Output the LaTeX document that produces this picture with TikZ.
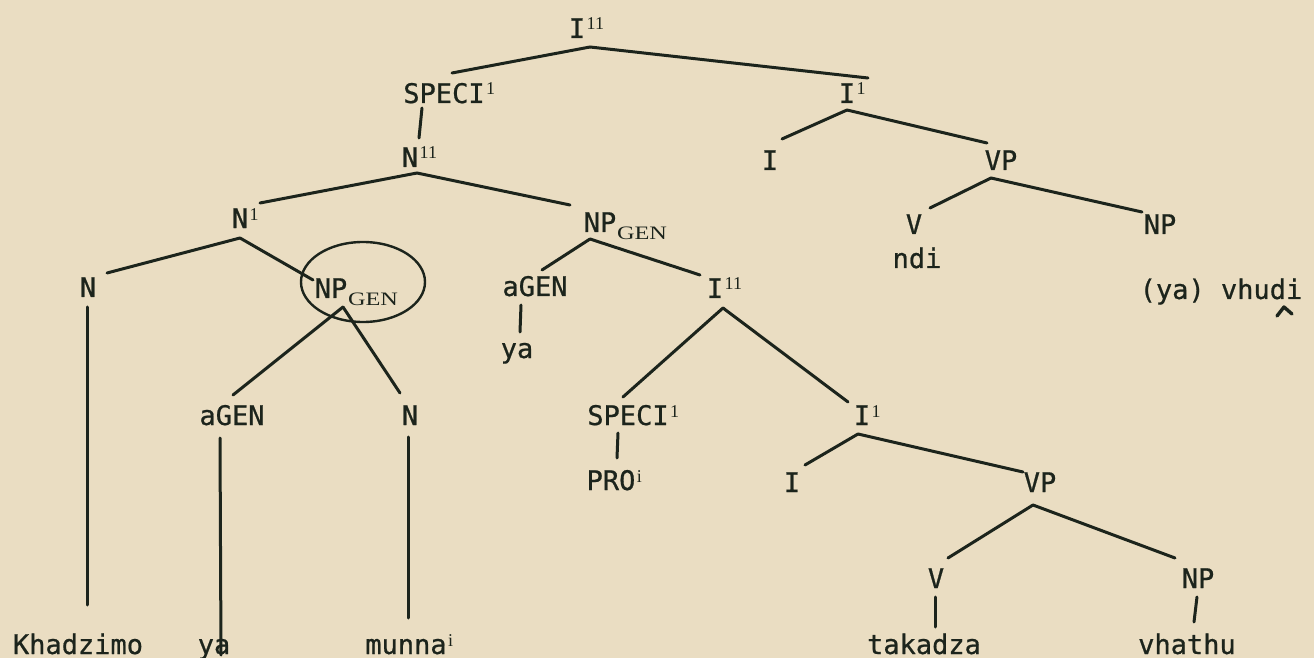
\documentclass[tikz,border=0pt]{standalone}
\usepackage{fontspec}
\usepackage{graphicx}
\usetikzlibrary{calc}
\newfontfamily\tw[FakeBold=0.7]{DejaVu Sans Mono}
\newfontfamily\sr{Liberation Serif}
\definecolor{paper}{RGB}{234,221,194}
\definecolor{ink}{RGB}{28,36,28}
% bar-level superscript and GEN subscript, kept out of the node width
\newcommand{\hi}[1]{\rlap{\kern0.8pt\raisebox{4.0pt}{\sr\fontsize{9}{9}\selectfont #1}}}
\newcommand{\lo}[1]{\rlap{\kern0.4pt\raisebox{-3.8pt}{\sr\fontsize{9.5}{9.5}\selectfont\scalebox{1.28}[1]{#1}}}}
% a branch from an offset below the parent to an offset above the child
\newcommand{\branch}[6]{\draw[br] ($(#1.base)+(#2,#3)$) -- ($(#4.base)+(#5,#6)$);}
\begin{document}
\begin{tikzpicture}[x=0.5pt,y=-0.5pt,
  lab/.style={font=\tw\fontsize{13.5}{14}\selectfont, text=ink, inner sep=0pt,
              anchor=base, text height=9.8pt, text depth=0pt},
  br/.style={draw=ink, line width=1.5pt, line cap=round}]
\fill[paper] (0,0) rectangle (1314,658);
\useasboundingbox (0,0) rectangle (1314,658);

% labels
\node[lab] (t)       at (577,38)  {I\hi{11}};
\node[lab] (spec1)   at (444,103) {SPECI\hi{1}};
\node[lab] (i1r)     at (847,103) {I\hi{1}};
\node[lab] (n11)     at (410,167) {N\hi{11}};
\node[lab] (ir)      at (770,170) {I};
\node[lab] (vpr)     at (1001,170) {VP};
\node[lab] (n1)      at (240,228) {N\hi{1}};
\node[lab] (npg)     at (600,232) {NP\lo{GEN}};
\node[lab] (vr)      at (914,234) {V};
\node[lab] (npr)     at (1160,234) {NP};
\node[lab] (ndi)     at (917,268) {ndi};
\node[lab] (nl)      at (88,297)  {N};
\node[lab] (npgc)    at (331,298) {NP\lo{GEN}};
\node[lab] (ageng)   at (535,296) {aGEN};
\node[lab] (i11m)    at (715,298) {I\hi{11}};
\node[lab] (vhudi)   at (1221,299) {(ya) vhudi};
\node[lab] (yam)     at (517,358) {ya};
\node[lab] (agenl)   at (232,425) {aGEN};
\node[lab] (nm)      at (410,425) {N};
\node[lab] (spec1m)  at (628,425) {SPECI\hi{1}};
\node[lab] (i1m)     at (862,425) {I\hi{1}};
\node[lab] (pro)     at (611,490) {PRO\hi{i}};
\node[lab] (im)      at (792,492) {I};
\node[lab] (vpm)     at (1040,492) {VP};
\node[lab] (vm)      at (936,588) {V};
\node[lab] (npm)     at (1198,588) {NP};
\node[lab] (khad)    at (78,654)  {Khadzimo};
\node[lab] (yal)     at (214,654) {ya};
\node[lab] (munna)   at (406,654) {munna\hi{i}};
\node[lab] (takadza) at (924,654) {takadza};
\node[lab] (vhathu)  at (1187,654) {vhathu};

% branches
\branch{t}{13}{9}{spec1}{8}{-30}
\branch{t}{13}{9}{i1r}{21}{-25}
\branch{spec1}{-22}{5}{n11}{9}{-29}
\branch{i1r}{0}{7}{ir}{12}{-31}
\branch{i1r}{0}{7}{vpr}{-14}{-27}
\branch{n11}{7}{6}{n1}{20}{-25}
\branch{n11}{7}{6}{npg}{-30}{-27}
\branch{vpr}{-10}{8}{vr}{16}{-26}
\branch{vpr}{-10}{8}{npr}{-18}{-22}
\branch{n1}{0}{10}{nl}{19}{-24}
\branch{n1}{0}{10}{npgc}{-18}{-18}
\branch{npg}{-10}{7}{ageng}{7}{-26}
\branch{npg}{-10}{7}{i11m}{-15}{-23}
\branch{ageng}{-14}{9}{yam}{3}{-26}
\branch{i11m}{8}{10}{spec1m}{-5}{-28}
\branch{i11m}{8}{10}{i1m}{-14}{-23}
\branch{npgc}{12}{9}{agenl}{1}{-30}
\branch{npgc}{12}{9}{nm}{-10}{-32}
\branch{nl}{-1}{10}{khad}{9}{-49}
\branch{agenl}{-12}{13}{yal}{7}{1}
\branch{nm}{-2}{12}{munna}{2}{-36}
\branch{spec1m}{-10}{8}{pro}{6}{-32}
\branch{i1m}{-4}{9}{im}{13}{-27}
\branch{i1m}{-4}{9}{vpm}{-17}{-20}
\branch{vpm}{-7}{13}{vm}{12}{-30}
\branch{vpm}{-7}{13}{npm}{-23}{-30}
\branch{vm}{-1}{9}{takadza}{11}{-27}
\branch{npm}{-1}{9}{vhathu}{7}{-32}

% ring round the embedded genitive phrase
\draw[draw=ink, line width=1.2pt] ($(npgc.base)+(32,-16)$) ellipse [x radius=31pt, y radius=20pt];

% caret mark under the d of vhudi
\draw[draw=ink, line width=1.7pt, line cap=round, line join=round]
  ($(vhudi.base)+(56,17)$) -- ($(vhudi.base)+(63,8)$) -- ($(vhudi.base)+(71,15)$);
\end{tikzpicture}
\end{document}
